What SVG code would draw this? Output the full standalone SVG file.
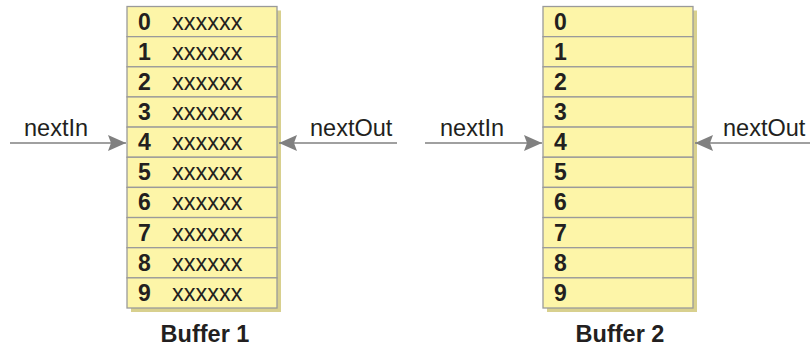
<svg xmlns="http://www.w3.org/2000/svg" width="811" height="348" viewBox="0 0 811 348">
<defs>
<style>
.sh{fill:#d8d08e}
.cell{fill:#fdf5a8;stroke:#9a9a9a;stroke-width:1.3}
.num{font-family:"Liberation Sans",Arial,sans-serif;font-weight:bold;font-size:23px;fill:#231f20}
.val{font-family:"Liberation Sans",Arial,sans-serif;font-size:23.5px;fill:#231f20}
.lbl{font-family:"Liberation Sans",Arial,sans-serif;font-size:23.5px;fill:#231f20}
.title{font-family:"Liberation Sans",Arial,sans-serif;font-weight:bold;font-size:23.5px;fill:#231f20;text-anchor:middle}
.conn{stroke:#808080;stroke-width:1.5;fill:none}
</style>
<marker id="ah" viewBox="0 0 18 16" refX="18" refY="8" markerWidth="18" markerHeight="16" markerUnits="userSpaceOnUse" orient="auto">
<path d="M0,0 L18,8 L0,16 L3,8 Z" fill="#808080"/>
</marker>
</defs>
<g id="buffer1">
<rect class="sh" x="131" y="10.5" width="150" height="301.5"/>
<g>
<rect class="cell" x="127" y="6.5" width="150" height="30.15"/>
<rect class="cell" x="127" y="36.65" width="150" height="30.15"/>
<rect class="cell" x="127" y="66.8" width="150" height="30.15"/>
<rect class="cell" x="127" y="96.95" width="150" height="30.15"/>
<rect class="cell" x="127" y="127.1" width="150" height="30.15"/>
<rect class="cell" x="127" y="157.25" width="150" height="30.15"/>
<rect class="cell" x="127" y="187.4" width="150" height="30.15"/>
<rect class="cell" x="127" y="217.55" width="150" height="30.15"/>
<rect class="cell" x="127" y="247.7" width="150" height="30.15"/>
<rect class="cell" x="127" y="277.85" width="150" height="30.15"/>
</g>
<text class="num" x="138" y="29.5">0</text><text class="val" x="172" y="29.5">xxxxxx</text>
<text class="num" x="138" y="59.6">1</text><text class="val" x="172" y="59.6">xxxxxx</text>
<text class="num" x="138" y="89.8">2</text><text class="val" x="172" y="89.8">xxxxxx</text>
<text class="num" x="138" y="119.9">3</text><text class="val" x="172" y="119.9">xxxxxx</text>
<text class="num" x="138" y="150.1">4</text><text class="val" x="172" y="150.1">xxxxxx</text>
<text class="num" x="138" y="180.2">5</text><text class="val" x="172" y="180.2">xxxxxx</text>
<text class="num" x="138" y="210.4">6</text><text class="val" x="172" y="210.4">xxxxxx</text>
<text class="num" x="138" y="240.5">7</text><text class="val" x="172" y="240.5">xxxxxx</text>
<text class="num" x="138" y="270.7">8</text><text class="val" x="172" y="270.7">xxxxxx</text>
<text class="num" x="138" y="300.8">9</text><text class="val" x="172" y="300.8">xxxxxx</text>
<text class="title" x="205" y="342">Buffer 1</text>
</g>
<g id="buffer2">
<rect class="sh" x="547" y="10.5" width="150" height="301.5"/>
<g>
<rect class="cell" x="543" y="6.5" width="150" height="30.15"/>
<rect class="cell" x="543" y="36.65" width="150" height="30.15"/>
<rect class="cell" x="543" y="66.8" width="150" height="30.15"/>
<rect class="cell" x="543" y="96.95" width="150" height="30.15"/>
<rect class="cell" x="543" y="127.1" width="150" height="30.15"/>
<rect class="cell" x="543" y="157.25" width="150" height="30.15"/>
<rect class="cell" x="543" y="187.4" width="150" height="30.15"/>
<rect class="cell" x="543" y="217.55" width="150" height="30.15"/>
<rect class="cell" x="543" y="247.7" width="150" height="30.15"/>
<rect class="cell" x="543" y="277.85" width="150" height="30.15"/>
</g>
<text class="num" x="554" y="29.5">0</text>
<text class="num" x="554" y="59.6">1</text>
<text class="num" x="554" y="89.8">2</text>
<text class="num" x="554" y="119.9">3</text>
<text class="num" x="554" y="150.1">4</text>
<text class="num" x="554" y="180.2">5</text>
<text class="num" x="554" y="210.4">6</text>
<text class="num" x="554" y="240.5">7</text>
<text class="num" x="554" y="270.7">8</text>
<text class="num" x="554" y="300.8">9</text>
<text class="title" x="620" y="342">Buffer 2</text>
</g>
<g id="connectors">
<line class="conn" x1="10" y1="143" x2="126" y2="143" marker-end="url(#ah)"/>
<line class="conn" x1="397" y1="143" x2="279" y2="143" marker-end="url(#ah)"/>
<line class="conn" x1="425" y1="143" x2="542" y2="143" marker-end="url(#ah)"/>
<line class="conn" x1="810" y1="143" x2="695" y2="143" marker-end="url(#ah)"/>
</g>
<g id="labels">
<text class="lbl" x="24" y="136">nextIn</text>
<text class="lbl" x="310" y="136">nextOut</text>
<text class="lbl" x="440" y="136">nextIn</text>
<text class="lbl" x="723" y="136">nextOut</text>
</g>
</svg>
